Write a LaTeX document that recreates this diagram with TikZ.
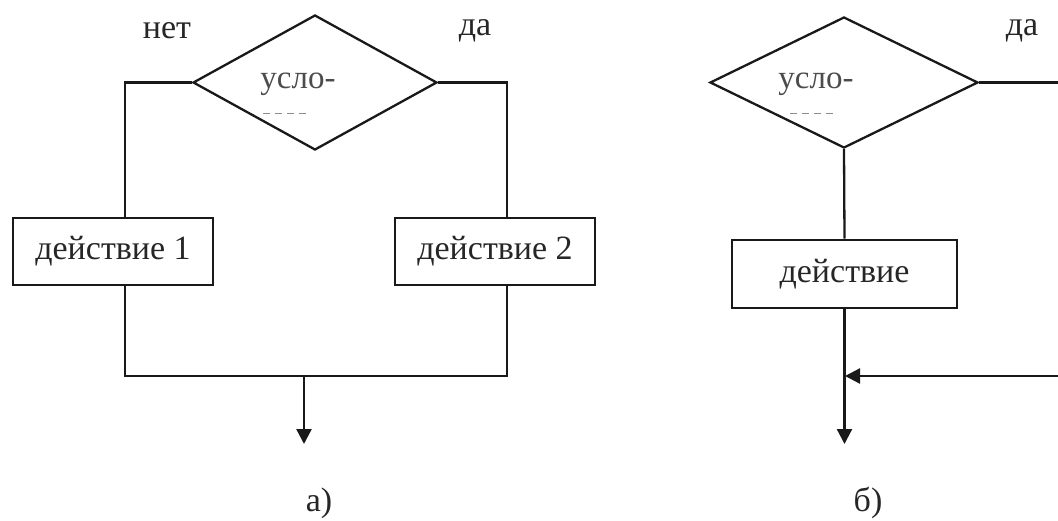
\documentclass[tikz,border=0pt]{standalone}
\usepackage{fontspec}
\setmainfont{Liberation Serif}
\usetikzlibrary{shapes.geometric,arrows.meta}
\tikzset{
  ln/.style={line width=2.3pt, draw=black!90},
  cond/.style={diamond, draw=black!90, line width=2.3pt, inner sep=0pt},
  actbox/.style={rectangle, draw=black!90, line width=2.8pt, inner sep=0pt, text=black!85,
     font=\fontsize{34}{40}\selectfont},
  lbl/.style={text=black!85, font=\fontsize{34}{40}\selectfont, inner sep=0pt},
  clbl/.style={text=black!70, font=\fontsize{33}{40}\selectfont, inner sep=0pt},
  arr/.style={ln, -{Triangle[length=15pt,width=15pt]}},
}
\begin{document}
\begin{tikzpicture}[x=1pt,y=-1pt]
\useasboundingbox (0,0) rectangle (1058,520);
% ---------- a) ----------
\node[cond, minimum width=244pt, minimum height=135pt] (c1) at (315,82.5) {};
\node[clbl] (t1) at (298,84) {усло-};
\draw[black!45, line width=1pt, dash pattern=on 7pt off 5pt] (263,113) -- (310,113);
\node[lbl] (no) at (167,31) {нет};
\node[lbl] (yes1) at (475,31) {да};
\node[actbox, minimum width=200pt, minimum height=67pt] (b1) at (113,251.5) {действие 1};
\node[actbox, minimum width=200pt, minimum height=67pt] (b2) at (495,251.5) {действие 2};
\coordinate (lx) at (125,0);
\coordinate (rx) at (507,0);
\coordinate (j1) at (304,376);
\coordinate (e1) at (304,444);
\draw[ln] (c1.west) -| (b1.north -| lx);
\draw[ln] (c1.east) -| (b2.north -| rx);
\draw[ln] (b1.south -| lx) |- (j1) -| (b2.south -| rx);
\draw[arr] (j1) -- (e1);
\node[lbl] (la) at (319,503) {а)};
% ---------- b) ----------
\node[cond, minimum width=268pt, minimum height=131pt] (c2) at (844,82.5) {};
\node[clbl] (t2) at (816,84) {усло-};
\draw[black!45, line width=1pt, dash pattern=on 7pt off 5pt] (790,113) -- (837,113);
\node[lbl] (yes2) at (1022,31) {да};
\node[actbox, minimum width=225pt, minimum height=68pt] (b3) at (844.5,274) {действие};
\coordinate (r1) at (1058,82.5);
\coordinate (r2) at (1058,376);
\coordinate (j2) at (845,376);
\coordinate (e2) at (844.5,444);
\draw[ln] (c2.east) -- (r1);
\draw[ln] (c2.south) -- (b3.north);
\draw[arr] (b3.south) -- (e2);
\draw[arr] (r2) -- (j2);
\node[lbl] (lb) at (868,503) {б)};
\end{tikzpicture}
\end{document}
